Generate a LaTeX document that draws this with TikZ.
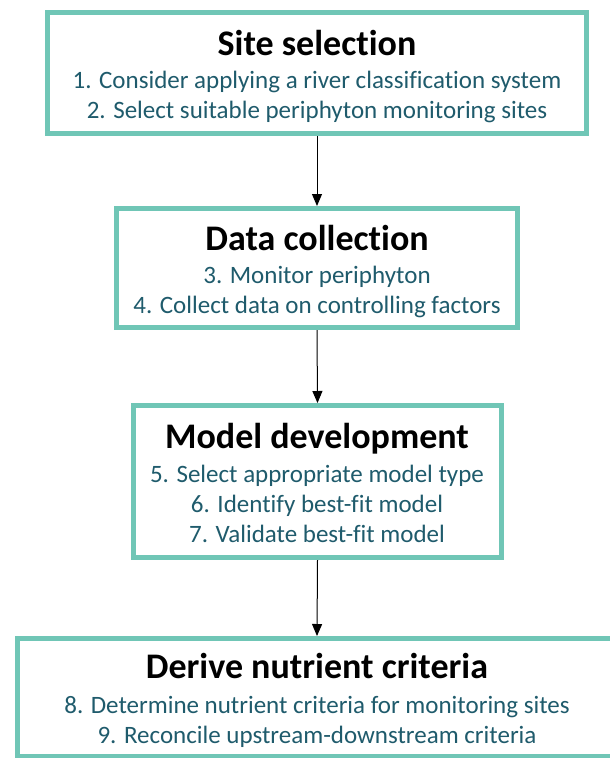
\documentclass[tikz,border=0pt]{standalone}
\usepackage{fontspec}
\setmainfont{Carlito}[Ligatures=NoCommon]
\usetikzlibrary{arrows.meta,backgrounds}

\definecolor{boxteal}{RGB}{112,198,182}
\definecolor{itemblue}{RGB}{31,91,108}

\tikzset{
  stagebox/.style={draw=boxteal, line width=5pt, fill=white, inner sep=0pt},
  stagetitle/.style={anchor=base, inner sep=0pt, font=\fontsize{36}{42}\selectfont\bfseries, text=black},
  stageitem/.style={anchor=base, inner sep=0pt, font=\fontsize{25}{30}\selectfont, text=itemblue},
  flow/.style={draw=black, line width=1pt, -{Triangle[width=10pt,length=12pt]}},
}

\begin{document}
\begin{tikzpicture}[x=1pt, y=-1pt]
  \useasboundingbox (0,0) rectangle (610,758);
  \fill[white] (0,0) rectangle (610,758);
  \clip (0,0) rectangle (610,758);

  % stage frames
  \node[stagebox, minimum width=539pt, minimum height=121pt] (b1) at (317,73) {};
  \node[stagebox, minimum width=401pt, minimum height=119pt] (b2) at (317,268) {};
  \node[stagebox, minimum width=368pt, minimum height=152pt] (b3) at (317.5,481.5) {};
  \node[stagebox, minimum width=599pt, minimum height=118pt] (b4) at (317,697.5) {};

  % soft glow shadow behind each frame
  \begin{scope}[on background layer]
    \foreach \b in {b1,b2,b3,b4}{
      \foreach \k in {1,...,6}{
        \fill[black, opacity=0.06]
          ([shift={(-\k pt+1pt,\k pt-1pt)}]\b.north west) rectangle
          ([shift={(\k pt+1pt,-\k pt-1pt)}]\b.south east);
      }
    }
  \end{scope}

  % stage 1
  \node[stagetitle] (t1) at (317,55) {Site selection};
  \node[stageitem] (i1) at (317,88) {1. Consider applying a river classification system};
  \node[stageitem] (i2) at (317,118) {2. Select suitable periphyton monitoring sites};

  % stage 2
  \node[stagetitle] (t2) at (317,250) {Data collection};
  \node[stageitem] (i3) at (317,283) {3. Monitor periphyton};
  \node[stageitem] (i4) at (317,313) {4. Collect data on controlling factors};

  % stage 3
  \node[stagetitle] (t3) at (317,448) {Model development};
  \node[stageitem] (i5) at (317,482) {5. Select appropriate model type};
  \node[stageitem] (i6) at (317,512) {6. Identify best-fit model};
  \node[stageitem] (i7) at (317,542) {7. Validate best-fit model};

  % stage 4
  \node[stagetitle] (t4) at (317,678) {Derive nutrient criteria};
  \node[stageitem] (i8) at (317,713) {8. Determine nutrient criteria for monitoring sites};
  \node[stageitem] (i9) at (317,743) {9. Reconcile upstream-downstream criteria};

  % flow between stages
  \draw[flow] (b1.south) -- (b2.north);
  \draw[flow] (b2.south) -- (b3.north);
  \draw[flow] (b3.south) -- (b4.north);
\end{tikzpicture}
\end{document}
